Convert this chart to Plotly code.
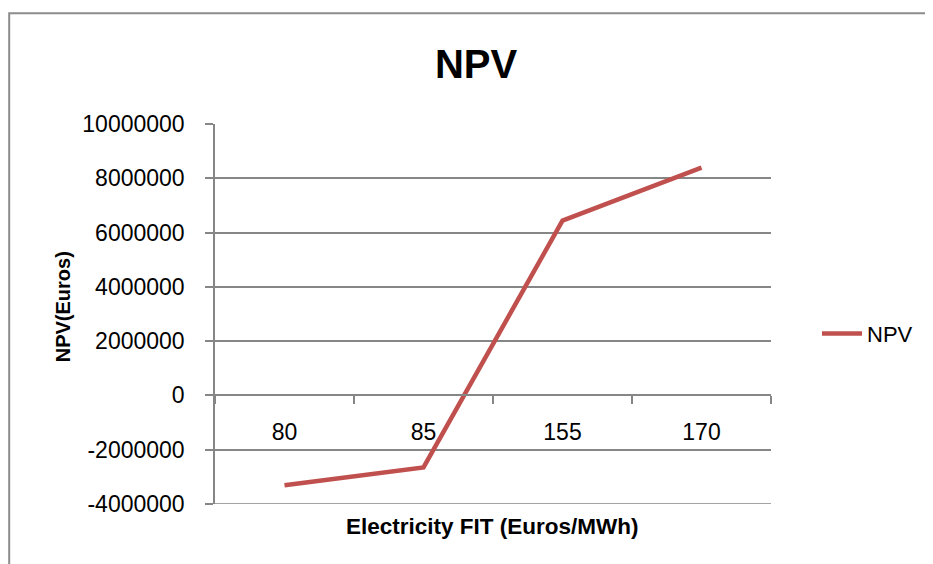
import plotly.graph_objects as go

categories = ["80", "85", "155", "170"]
npv_values = [-3310000, -2650000, 6440000, 8390000]
y_ticks = [-4000000, -2000000, 0, 2000000, 4000000, 6000000, 8000000, 10000000]
y_min, y_max = -4000000, 10000000

OFF = 8  # page body margin
W, H = 933 - OFF, 564 - OFF
L, R, T, B = 215 - OFF, 771 - OFF, 123.5 - OFF, 504 - OFF

def px(x):
    return (x - OFF - L) / (R - L)

def py(y):
    return (B - (y - OFF)) / (B - T)

FONT = "Liberation Sans, Arial, sans-serif"
GRID = "#868686"
RED = "#C0504D"

fig = go.Figure()
fig.add_trace(go.Scatter(
    x=categories, y=npv_values, mode="lines", name="NPV",
    line=dict(color=RED, width=4.5),
))

zero_pos = (0 - y_min) / (y_max - y_min)

fig.update_layout(
    width=W, height=H,
    margin=dict(l=L, r=W - R, t=T, b=H - B, pad=0),
    paper_bgcolor="white", plot_bgcolor="white",
    font=dict(family=FONT, color="black", size=23),
    title=dict(text="<b>NPV</b>", x=(476 - OFF) / W, xanchor="center",
               y=1 - (64 - OFF) / H, yanchor="middle",
               font=dict(size=40, family=FONT, color="black")),
    showlegend=True,
    legend=dict(x=px(817), xanchor="left", y=py(333.5), yanchor="middle",
                font=dict(size=22, family=FONT, color="black"),
                bgcolor="rgba(0,0,0,0)", itemwidth=40),
    xaxis=dict(type="category", anchor="free", position=zero_pos,
               range=[-0.5, 3.5], showgrid=False, zeroline=False,
               showline=True, linecolor=GRID, linewidth=1.5,
               ticks="outside", tickson="boundaries", ticklen=8,
               tickcolor=GRID, tickwidth=1.5,
               tickfont=dict(size=23, family=FONT, color="black"),
               ticklabelstandoff=16),
    yaxis=dict(range=[y_min, y_max], tickvals=y_ticks,
               ticktext=[str(v) for v in y_ticks],
               showgrid=True, gridcolor=GRID, gridwidth=1.5,
               zeroline=False, showline=True, linecolor=GRID, linewidth=1.5,
               ticks="outside", ticklen=8, tickcolor=GRID, tickwidth=1.5,
               tickfont=dict(size=23, family=FONT, color="black"),
               ticklabelstandoff=16),
)

# bottom boundary line at y_min
fig.add_shape(type="line", xref="paper", yref="y", x0=0, x1=1, y0=y_min, y1=y_min,
              line=dict(color=GRID, width=1.5))

# chart frame
fig.add_shape(type="rect", xref="paper", yref="paper",
              x0=px(9.2), x1=px(960), y0=py(590), y1=py(12.5),
              line=dict(color="#8c8c8c", width=2), fillcolor="rgba(0,0,0,0)",
              layer="below")

fig.add_annotation(text="<b>NPV(Euros)</b>", xref="paper", yref="paper",
                   x=px(63), y=py(307), textangle=-90, showarrow=False,
                   font=dict(size=20, family=FONT, color="black"),
                   xanchor="center", yanchor="middle")
fig.add_annotation(text="<b>Electricity FIT (Euros/MWh)</b>", xref="paper", yref="paper",
                   x=px(492.5), y=py(527), showarrow=False,
                   font=dict(size=22.5, family=FONT, color="black"),
                   xanchor="center", yanchor="middle")

fig.write_html("out.html")
